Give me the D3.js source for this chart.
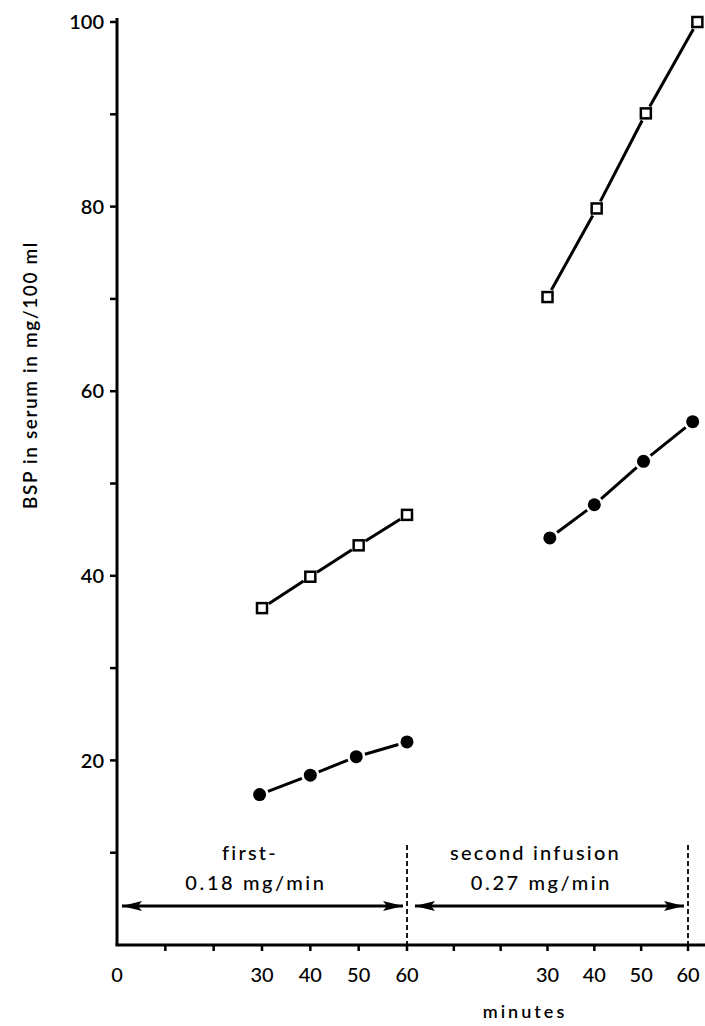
<!DOCTYPE html>
<html>
<head>
<meta charset="utf-8">
<script src="https://cdn.jsdelivr.net/npm/d3@7"></script>
<style>
  body { margin: 0; background: #fff; }
  text { font-family: "Lato", "DejaVu Sans", sans-serif; fill: #000; }
</style>
</head>
<body>
<script>
// minutes within each infusion, second infusion shifted by 60 on the time axis
const squareTimes1 = [30, 40, 50, 60];
const squareValues1 = [36.5, 39.9, 43.3, 46.6];
const circleTimes1 = [29.5, 40, 49.5, 60];
const circleValues1 = [16.3, 18.4, 20.4, 22.0];

const squareTimes2 = [30, 40.5, 51, 62];
const squareValues2 = [70.2, 79.8, 90.1, 100];
const circleTimes2 = [30.5, 40, 50.5, 61];
const circleValues2 = [44.1, 47.7, 52.4, 56.7];

const yTickLabels = [20, 40, 60, 80, 100];
const yMinorTicks = [10, 30, 50, 70, 90];
const xTicks = [10, 20, 30, 40, 50, 60, 70, 80, 90, 100, 110, 120];
const xLabels = [
    { t: 0, label: "0" }, { t: 30, label: "30" }, { t: 40, label: "40" }, { t: 50, label: "50" }, { t: 60, label: "60" },
    { t: 90, label: "30" }, { t: 100, label: "40" }, { t: 110, label: "50" }, { t: 120, label: "60" }
];
const infusions = [
    { start: 0, end: 60, line1: "first-", line2: "0.18 mg/min" },
    { start: 60, end: 120, line1: "second infusion", line2: "0.27 mg/min" }
];

const width = 705, height = 1026;

const svg = d3.select("body").append("svg")
    .attr("width", width)
    .attr("height", height);

const x = d3.scaleLinear().domain([0, 60, 120]).range([117, 407, 688]);
const y = d3.scaleLinear().domain([0, 100]).range([945, 22]);

// axes
svg.append("line")
    .attr("x1", x(0)).attr("x2", x(0))
    .attr("y1", y(0)).attr("y2", y(100) - 4)
    .attr("stroke", "#000").attr("stroke-width", 3);

svg.append("line")
    .attr("x1", x(0) - 1.5).attr("x2", width)
    .attr("y1", y(0)).attr("y2", y(0))
    .attr("stroke", "#000").attr("stroke-width", 3);

svg.selectAll(".ytick")
    .data(yTickLabels.concat(yMinorTicks))
    .enter().append("line")
    .attr("x1", x(0) - 7).attr("x2", x(0))
    .attr("y1", d => y(d)).attr("y2", d => y(d))
    .attr("stroke", "#000").attr("stroke-width", 2.5);

svg.selectAll(".ylabel")
    .data(yTickLabels)
    .enter().append("text")
    .attr("x", x(0) - 13)
    .attr("y", d => y(d))
    .attr("dy", "0.36em")
    .attr("text-anchor", "end")
    .attr("font-size", 20)
    .attr("font-weight", 600)
    .text(d => d);

svg.selectAll(".xtick")
    .data(xTicks)
    .enter().append("line")
    .attr("x1", d => x(d)).attr("x2", d => x(d))
    .attr("y1", y(0)).attr("y2", y(0) + 6)
    .attr("stroke", "#000").attr("stroke-width", 2.5);

svg.selectAll(".xlabel")
    .data(xLabels)
    .enter().append("text")
    .attr("x", d => x(d.t))
    .attr("y", y(0) + 30)
    .attr("dy", "0.36em")
    .attr("text-anchor", "middle")
    .attr("font-size", 20)
    .attr("font-weight", 500)
    .text(d => d.label);

svg.append("text")
    .attr("x", 525)
    .attr("y", 1012)
    .attr("dy", "0.36em")
    .attr("text-anchor", "middle")
    .attr("font-size", 18)
    .attr("font-weight", 600)
    .attr("letter-spacing", 3)
    .text("minutes");

svg.append("text")
    .attr("transform", `translate(30,375) rotate(-90)`)
    .attr("text-anchor", "middle")
    .attr("dy", "0.36em")
    .attr("font-size", 19)
    .attr("font-weight", 600)
    .attr("letter-spacing", 1.6)
    .text("BSP in serum in mg/100 ml");

// infusion markers
svg.selectAll(".sep")
    .data([60, 120])
    .enter().append("line")
    .attr("x1", d => x(d)).attr("x2", d => x(d))
    .attr("y1", 845).attr("y2", y(0))
    .attr("stroke", "#000").attr("stroke-width", 1.8)
    .attr("stroke-dasharray", "5,3");

const defs = svg.append("defs");
defs.append("marker")
    .attr("id", "arrow")
    .attr("viewBox", "0 0 20 10")
    .attr("refX", 20).attr("refY", 5)
    .attr("markerWidth", 20).attr("markerHeight", 10)
    .attr("markerUnits", "userSpaceOnUse")
    .attr("orient", "auto-start-reverse")
    .append("path")
    .attr("d", "M0,0 L20,5 L0,10 L4,5 Z")
    .attr("fill", "#000");

const arrowY = 906;
svg.selectAll(".span")
    .data(infusions)
    .enter().append("line")
    .attr("x1", d => x(d.start) + (d.start === 0 ? 5 : 8))
    .attr("x2", d => x(d.end) - 4)
    .attr("y1", arrowY).attr("y2", arrowY)
    .attr("stroke", "#000").attr("stroke-width", 3)
    .attr("marker-start", "url(#arrow)")
    .attr("marker-end", "url(#arrow)");

svg.selectAll(".inf1")
    .data(infusions)
    .enter().append("text")
    .attr("x", d => (x(d.start) + x(d.end)) / 2 - 12)
    .attr("y", 853)
    .attr("dy", "0.36em")
    .attr("text-anchor", "middle")
    .attr("font-size", 20)
    .attr("font-weight", 500)
    .attr("letter-spacing", 2.2)
    .text(d => d.line1);

svg.selectAll(".inf2")
    .data(infusions)
    .enter().append("text")
    .attr("x", d => (x(d.start) + x(d.end)) / 2 - 6)
    .attr("y", 883)
    .attr("dy", "0.36em")
    .attr("text-anchor", "middle")
    .attr("font-size", 20)
    .attr("font-weight", 500)
    .attr("letter-spacing", 2.6)
    .text(d => d.line2);

// series
function makePoints(times, values, offset) {
    return times.map((t, i) => ({ px: x(t + offset), py: y(values[i]) }));
}

const series = [
    { type: "square", pts: makePoints(squareTimes1, squareValues1, 0) },
    { type: "circle", pts: makePoints(circleTimes1, circleValues1, 0) },
    { type: "square", pts: makePoints(squareTimes2, squareValues2, 60) },
    { type: "circle", pts: makePoints(circleTimes2, circleValues2, 60) }
];

series.forEach(s => {
    const gap = s.type === "square" ? 8 : 9;
    const segs = d3.pairs(s.pts).map(([a, b]) => {
        const dx = b.px - a.px, dy = b.py - a.py;
        const len = Math.sqrt(dx * dx + dy * dy);
        const ux = dx / len, uy = dy / len;
        return { x1: a.px + ux * gap, y1: a.py + uy * gap, x2: b.px - ux * gap, y2: b.py - uy * gap };
    });

    svg.append("g").selectAll("line")
        .data(segs)
        .enter().append("line")
        .attr("x1", d => d.x1).attr("y1", d => d.y1)
        .attr("x2", d => d.x2).attr("y2", d => d.y2)
        .attr("stroke", "#000").attr("stroke-width", 3);

    if (s.type === "square") {
        svg.append("g").selectAll("rect")
            .data(s.pts)
            .enter().append("rect")
            .attr("x", d => d.px - 5).attr("y", d => d.py - 5)
            .attr("width", 10).attr("height", 10)
            .attr("fill", "#fff")
            .attr("stroke", "#000").attr("stroke-width", 2.5);
    } else {
        svg.append("g").selectAll("circle")
            .data(s.pts)
            .enter().append("circle")
            .attr("cx", d => d.px).attr("cy", d => d.py)
            .attr("r", 6.5)
            .attr("fill", "#000");
    }
});
</script>
</body>
</html>
